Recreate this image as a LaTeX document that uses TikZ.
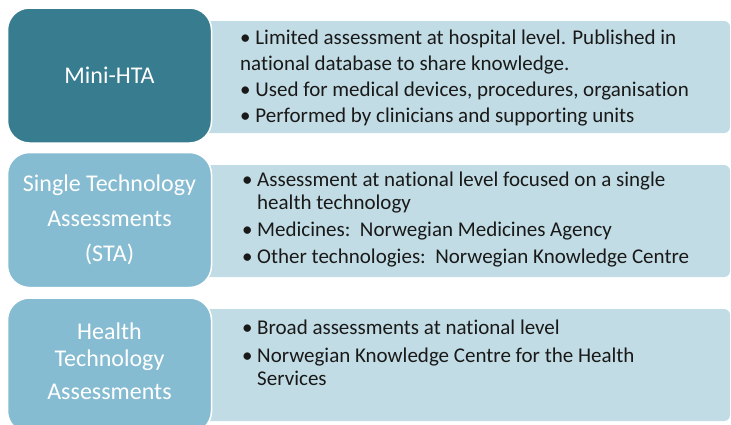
\documentclass[tikz,border=0pt]{standalone}
\usepackage{fontspec}
\setmainfont{Carlito}[Ligatures={NoCommon,NoRequired,NoContextual}]
\definecolor{tealdark}{HTML}{377C8F}
\definecolor{teallight}{HTML}{86BCD1}
\definecolor{panelblue}{HTML}{C1DCE4}
\newcommand{\bul}{\makebox[15pt][l]{\textbullet}}
\newcommand{\hng}{\hspace*{15pt}}
\tikzset{
  leftbox/.style={draw=white, line width=1.5pt, rounded corners=22pt,
    minimum width=204pt, minimum height=135pt, text=white, align=center,
    font=\fontsize{24}{35}\selectfont},
  panel/.style={fill=panelblue, rounded corners=6pt, minimum width=530pt,
    minimum height=112pt},
  bodytext/.style={anchor=west, align=left, text=black!90,
    font=\fontsize{21}{23}\selectfont, inner sep=0pt}
}
\begin{document}
\begin{tikzpicture}[x=1pt, y=-1pt]
\useasboundingbox (0,0) rectangle (731,424);
%pannelli
\node[panel] (miniP) at (465,77) {};
\node[panel] (staP) at (465,221) {};
\node[panel] (htaP) at (465,365) {};
%riquadri
\node[leftbox, fill=tealdark] (mini) at (109.5,75.5) {Mini-HTA};
\node[leftbox, fill=teallight] (sta) at (109.5,220) {Single Technology\\Assessments\\(STA)};
\node[leftbox, fill=teallight, font=\fontsize{24}{27}\selectfont] (hta) at (109.5,365.5)
  {\\[8pt]Health\\Technology\\[6pt]Assessments\\};
%testi
\node[bodytext, font=\fontsize{21}{26}\selectfont] (miniT) at (240,78.5)
  {\textbullet\ Limited assessment at hospital level. Published in\\
   national database to share knowledge.\\
   \textbullet\ Used for medical devices, procedures, organisation\\
   \textbullet\ Performed by clinicians and supporting units};
\node[bodytext] (staT) at (242,219.5)
  {\bul Assessment at national level focused on a single\\
   \hng health technology\\[4pt]
   \bul Medicines:\ \ Norwegian Medicines Agency\\[4pt]
   \bul Other technologies:\ \ Norwegian Knowledge Centre};
\node[bodytext] (htaT) at (242,352.5)
  {\bul Broad assessments at national level\\[5pt]
   \bul Norwegian Knowledge Centre for the Health\\
   \hng Services};
\end{tikzpicture}
\end{document}
